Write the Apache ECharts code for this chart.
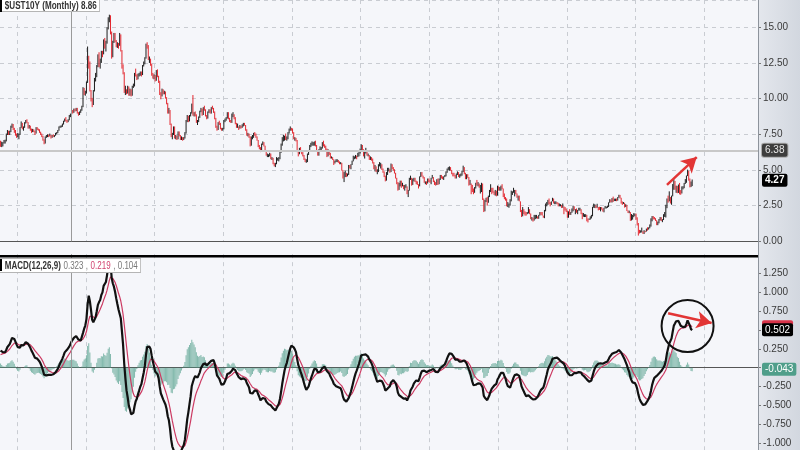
<!DOCTYPE html>
<html><head><meta charset="utf-8">
<script src="https://cdn.jsdelivr.net/npm/echarts/dist/echarts.min.js"></script>
<style>html,body{margin:0;padding:0;background:#f5f6fa}#c{width:800px;height:450px}</style>
</head><body><div id="c"></div><script>
// months on the axis: Oct 1973 .. Nov 2028 (data ends Feb 2024)
const startYear = 1973, startMonth = 10, totalSlots = 662;
// warm-up closes for MACD (Jan 1971 - Sep 1973), not drawn as candles
const priorCloses = [6.24,6.11,5.70,5.83,6.39,6.52,6.73,6.58,6.14,5.93,5.81,5.93,
5.95,6.08,6.07,6.19,6.13,6.11,6.11,6.21,6.55,6.48,6.28,6.36,
6.46,6.64,6.71,6.67,6.85,6.90,7.13,7.40,7.09];
const closes = [6.80,6.88,6.90,
7.02,7.05,7.50,7.65,7.55,7.70,8.05,8.20,7.85,7.75,7.50,7.40,
7.40,7.50,7.95,8.25,7.90,8.00,8.30,8.40,8.35,7.95,8.10,7.80,
7.75,7.80,7.70,7.60,7.95,7.85,7.80,7.65,7.50,7.35,7.10,6.85,
7.30,7.38,7.40,7.38,7.45,7.25,7.40,7.35,7.40,7.55,7.60,7.75,
7.95,8.05,8.05,8.20,8.40,8.55,8.45,8.40,8.50,8.75,8.90,9.10,
9.05,9.25,9.15,9.30,9.00,8.85,9.05,9.20,9.45,10.45,10.35,10.40,
11.15,12.80,12.50,10.60,9.95,9.60,10.55,11.35,11.55,12.30,12.70,12.45,
12.55,13.25,13.15,14.05,13.60,13.95,14.95,15.65,15.84,14.60,12.90,13.95,
14.30,14.05,13.75,13.80,13.75,14.45,13.35,12.30,11.80,10.50,10.55,10.40,
10.80,10.25,10.60,10.25,10.85,10.90,11.75,11.65,11.35,11.70,11.70,11.82,
11.70,12.30,12.45,12.85,13.80,13.70,12.75,12.75,12.40,11.65,11.55,11.55,
11.30,11.95,11.55,11.20,10.30,10.20,10.60,10.40,10.45,10.05,9.65,9.00,
9.15,8.20,7.35,7.50,8.00,7.25,7.30,7.15,7.65,7.40,7.20,7.25,
7.15,7.25,7.60,8.40,8.75,8.45,8.80,9.00,9.60,8.90,8.95,8.85,
8.35,8.40,8.70,9.10,9.30,8.85,9.35,9.20,8.80,8.60,9.05,9.15,
9.00,9.35,9.30,9.05,8.60,8.05,7.80,8.30,8.25,7.90,7.80,7.90,
8.45,8.55,8.65,9.00,8.60,8.40,8.35,8.85,8.85,8.65,8.25,8.05,
8.05,7.95,8.05,8.00,8.10,8.20,8.15,7.80,7.45,7.50,7.35,6.70,
7.30,7.30,7.55,7.50,7.30,7.10,6.65,6.55,6.30,6.80,6.90,6.70,
6.40,6.05,6.05,6.05,6.15,5.80,5.80,5.45,5.40,5.45,5.80,5.80,
5.80,6.25,6.75,7.10,7.15,7.35,7.20,7.20,7.60,7.80,7.90,7.85,
7.60,7.20,7.20,7.05,6.30,6.20,6.45,6.30,6.20,6.00,5.75,5.60,
5.60,6.10,6.35,6.65,6.75,6.75,6.90,6.95,6.70,6.35,6.05,6.40,
6.50,6.55,6.90,6.70,6.65,6.50,5.95,6.35,6.10,5.85,5.85,5.75,
5.50,5.60,5.65,5.65,5.55,5.45,5.50,5.00,4.45,4.60,4.75,4.65,
4.65,5.30,5.25,5.35,5.60,5.80,5.90,5.95,5.90,6.05,6.20,6.45,
6.68,6.40,6.00,6.20,6.25,6.05,6.05,5.75,5.80,5.75,5.50,5.10,
5.15,4.90,4.90,5.35,5.40,5.40,5.05,4.85,4.60,4.25,4.75,5.05,
5.05,4.85,5.40,5.10,5.05,4.80,4.45,4.15,3.60,3.90,4.20,3.80,
3.95,3.70,3.80,3.85,3.35,3.55,4.40,4.45,3.95,4.30,4.35,4.25,
4.15,4.00,3.85,4.50,4.65,4.60,4.45,4.15,4.15,4.05,4.35,4.25,
4.15,4.40,4.50,4.20,4.00,3.95,4.30,4.00,4.35,4.55,4.50,4.40,
4.50,4.55,4.85,5.05,5.10,5.15,5.00,4.75,4.65,4.60,4.45,4.70,
4.85,4.55,4.65,4.65,4.90,5.05,4.75,4.55,4.60,4.50,3.95,4.05,
3.65,3.50,3.45,3.75,4.05,3.95,3.95,3.80,3.80,3.95,2.95,2.20,
2.85,3.00,2.70,3.15,3.45,3.55,3.50,3.40,3.30,3.40,3.20,3.85,
3.60,3.60,3.85,3.65,3.30,2.95,2.90,2.45,2.50,2.60,2.80,3.30,
3.40,3.45,3.45,3.30,3.05,3.15,2.80,2.20,1.90,2.15,2.05,1.88,
1.80,1.98,2.20,1.92,1.58,1.65,1.50,1.55,1.63,1.70,1.62,1.76,
1.98,1.88,1.85,1.68,2.15,2.50,2.60,2.78,2.62,2.55,2.75,3.00,
2.65,2.65,2.72,2.65,2.48,2.53,2.55,2.35,2.50,2.35,2.18,2.17,
1.65,2.00,1.93,2.03,2.12,2.35,2.20,2.20,2.05,2.15,2.22,2.27,
1.92,1.73,1.78,1.83,1.85,1.47,1.45,1.58,1.60,1.83,2.38,2.45,
2.45,2.39,2.40,2.29,2.21,2.31,2.29,2.12,2.33,2.38,2.41,2.41,
2.72,2.86,2.74,2.95,2.83,2.85,2.96,2.86,3.06,3.14,3.01,2.69,
2.63,2.72,2.41,2.51,2.13,2.01,2.02,1.50,1.67,1.69,1.78,1.92,
1.51,1.13,0.67,0.64,0.65,0.66,0.55,0.71,0.68,0.88,0.84,0.92,
1.07,1.44,1.74,1.63,1.58,1.45,1.24,1.31,1.49,1.55,1.44,1.51,
1.78,1.83,2.34,2.94,2.84,3.01,2.65,3.19,3.83,4.05,3.68,3.88,
3.52,3.92,3.47,3.44,3.64,3.84,3.96,4.11,4.57,4.88,4.33,3.88,
3.91,4.27];
const highs = [7.05,6.98,6.95,
7.10,7.12,7.55,7.80,7.75,7.75,8.10,8.25,8.22,7.95,7.80,7.55,
7.60,7.55,8.00,8.40,8.30,8.05,8.35,8.50,8.55,8.35,8.15,8.10,
7.90,7.88,7.85,7.75,8.00,8.00,7.90,7.85,7.68,7.55,7.40,7.15,
7.35,7.45,7.50,7.48,7.55,7.45,7.45,7.50,7.45,7.60,7.65,7.80,
8.05,8.10,8.12,8.25,8.45,8.60,8.70,8.50,8.55,8.85,8.95,9.20,
9.20,9.30,9.30,9.35,9.35,9.05,9.10,9.25,9.50,10.80,10.75,10.55,
11.20,13.65,13.00,12.60,10.60,10.05,10.60,11.45,11.80,12.35,13.10,13.25,
12.80,13.35,13.35,14.15,14.25,14.05,15.00,15.70,15.88,15.84,14.70,14.05,
14.60,14.60,14.10,13.95,13.90,14.60,14.50,13.40,12.40,11.85,10.90,10.65,
10.90,10.85,10.70,10.65,10.90,11.05,11.80,12.10,11.70,11.75,11.80,11.90,
11.90,12.35,12.60,12.90,13.85,13.95,13.75,12.95,12.80,12.45,11.80,11.70,
11.65,12.00,12.05,11.60,11.25,10.45,10.70,10.65,10.55,10.50,10.10,9.70,
9.35,9.20,8.25,7.60,8.05,8.05,7.45,7.40,7.70,7.70,7.45,7.35,
7.30,7.30,7.65,8.50,8.85,8.80,8.85,9.05,9.65,10.25,9.05,9.10,
8.90,8.50,8.75,9.15,9.35,9.30,9.40,9.50,9.25,8.85,9.10,9.25,
9.25,9.40,9.50,9.35,9.10,8.65,8.10,8.35,8.45,8.30,7.95,7.95,
8.50,8.60,8.70,9.05,9.05,8.65,8.50,8.95,9.05,8.90,8.70,8.30,
8.25,8.05,8.15,8.10,8.20,8.30,8.30,8.15,7.85,7.60,7.55,7.35,
7.35,7.45,7.60,7.65,7.55,7.35,7.10,6.75,6.60,6.85,7.00,6.95,
6.70,6.40,6.15,6.10,6.20,6.15,5.90,5.85,5.50,5.50,5.90,5.85,
5.90,6.30,6.85,7.30,7.45,7.40,7.55,7.35,7.65,7.90,8.05,7.95,
7.90,7.65,7.30,7.25,7.10,6.35,6.55,6.60,6.35,6.25,6.05,5.80,
5.75,6.15,6.40,6.75,6.90,7.00,6.95,7.00,7.05,6.75,6.40,6.45,
6.65,6.60,6.95,7.05,6.80,6.70,6.50,6.45,6.40,6.20,5.95,5.90,
5.75,5.65,5.75,5.75,5.70,5.60,5.55,5.50,5.00,4.85,4.95,4.80,
4.75,5.35,5.35,5.40,5.65,6.00,5.95,6.05,6.00,6.20,6.25,6.50,
6.80,6.75,6.45,6.30,6.55,6.30,6.15,6.05,5.95,5.90,5.80,5.55,
5.35,5.25,5.05,5.40,5.55,5.50,5.40,5.10,4.90,4.60,4.85,5.15,
5.15,5.05,5.45,5.40,5.20,5.05,4.80,4.45,4.15,4.10,4.25,4.25,
4.10,3.95,3.95,4.00,3.85,3.60,4.45,4.60,4.45,4.40,4.45,4.45,
4.25,4.20,4.00,4.55,4.85,4.85,4.60,4.50,4.20,4.20,4.40,4.40,
4.30,4.45,4.65,4.50,4.25,4.15,4.35,4.40,4.40,4.65,4.65,4.55,
4.55,4.65,4.90,5.10,5.20,5.25,5.20,5.00,4.80,4.80,4.65,4.75,
4.90,4.85,4.70,4.75,4.95,5.30,5.20,4.80,4.70,4.70,4.50,4.30,
4.05,3.95,3.70,3.80,4.10,4.30,4.15,4.05,3.95,4.10,4.05,3.00,
2.90,3.05,3.10,3.20,3.60,4.00,3.75,3.75,3.50,3.60,3.55,3.90,
3.85,3.80,3.90,4.00,3.70,3.35,3.10,3.00,2.75,2.65,2.95,3.55,
3.50,3.75,3.60,3.60,3.35,3.20,3.20,2.80,2.20,2.40,2.25,2.10,
2.05,2.05,2.40,2.25,1.95,1.70,1.65,1.85,1.85,1.85,1.75,1.85,
2.05,2.05,2.05,1.80,2.20,2.65,2.75,2.90,3.00,2.75,2.80,3.05,
3.00,2.80,2.80,2.75,2.70,2.65,2.60,2.55,2.65,2.45,2.40,2.30,
2.15,2.10,2.25,2.05,2.30,2.50,2.45,2.25,2.30,2.20,2.35,2.35,
2.25,2.00,1.98,1.90,1.90,1.85,1.60,1.60,1.75,1.85,2.42,2.64,
2.60,2.52,2.63,2.40,2.42,2.40,2.40,2.30,2.35,2.48,2.43,2.50,
2.73,2.95,2.93,3.03,3.13,2.99,2.99,3.00,3.10,3.26,3.25,3.05,
2.79,2.75,2.70,2.60,2.55,2.16,2.15,2.05,1.91,1.85,1.97,1.95,
1.94,1.68,1.28,0.80,0.77,0.96,0.70,0.78,0.73,0.89,0.98,0.98,
1.18,1.61,1.77,1.77,1.70,1.62,1.48,1.38,1.56,1.70,1.69,1.55,
1.90,2.05,2.56,3.00,3.20,3.50,3.10,3.20,4.01,4.34,4.23,3.90,
3.88,3.98,4.09,3.59,3.85,3.86,4.09,4.36,4.61,5.02,4.94,4.40,
4.19,4.33];
const lows = [6.62,6.60,6.65,
6.85,6.85,7.00,7.45,7.45,7.45,7.65,7.95,7.80,7.60,7.40,7.25,
7.30,7.15,7.45,7.95,7.85,7.75,7.95,8.25,8.30,7.90,7.90,7.75,
7.60,7.65,7.65,7.45,7.55,7.80,7.75,7.60,7.45,7.30,7.05,6.80,
6.85,7.25,7.30,7.30,7.35,7.20,7.25,7.30,7.30,7.40,7.50,7.58,
7.75,7.95,7.98,8.02,8.18,8.38,8.40,8.30,8.35,8.48,8.70,8.85,
8.95,9.00,9.10,9.12,8.95,8.80,8.85,9.00,9.15,9.40,10.25,10.20,
10.35,11.10,12.10,10.50,9.80,9.40,9.55,10.50,11.20,11.50,12.20,12.20,
12.10,12.50,12.90,13.10,13.50,13.30,13.85,14.85,15.35,14.50,12.80,12.90,
13.90,13.95,13.60,13.55,13.50,13.70,13.30,12.10,11.70,10.40,10.25,10.30,
10.35,10.20,10.20,10.15,10.20,10.75,10.85,11.55,11.30,11.35,11.55,11.60,
11.55,11.65,12.25,12.40,12.80,13.50,12.70,12.50,12.30,11.60,11.40,11.35,
11.20,11.25,11.50,11.10,10.25,9.95,10.15,10.30,10.30,10.00,9.60,8.95,
8.95,8.15,7.30,7.15,7.45,7.20,7.15,7.10,7.15,7.35,7.10,7.10,
7.05,7.10,7.20,7.55,8.35,8.35,8.40,8.75,8.95,8.80,8.75,8.75,
8.30,8.15,8.35,8.65,9.05,8.80,8.85,9.15,8.75,8.55,8.60,9.00,
8.95,8.95,9.25,9.00,8.55,7.95,7.75,7.80,8.15,7.85,7.75,7.75,
7.85,8.35,8.45,8.60,8.55,8.35,8.30,8.30,8.70,8.55,8.20,7.95,
7.95,7.80,7.90,7.90,7.95,8.05,8.10,7.75,7.40,7.35,7.25,6.65,
6.70,7.15,7.25,7.40,7.25,7.05,6.60,6.45,6.25,6.30,6.75,6.65,
6.35,6.00,5.90,5.90,5.95,5.75,5.70,5.40,5.25,5.20,5.40,5.65,
5.60,5.75,6.20,6.70,7.00,7.05,7.10,7.05,7.15,7.55,7.75,7.75,
7.55,7.15,7.05,7.00,6.25,5.95,6.10,6.25,6.10,5.95,5.70,5.55,
5.50,5.55,6.05,6.30,6.60,6.70,6.70,6.70,6.65,6.30,6.00,6.00,
6.35,6.30,6.50,6.65,6.55,6.40,5.90,5.95,6.05,5.80,5.80,5.70,
5.35,5.45,5.55,5.55,5.50,5.40,5.40,4.95,4.40,4.15,4.50,4.50,
4.55,4.65,5.10,5.05,5.35,5.60,5.75,5.80,5.75,5.90,5.95,6.15,
6.40,6.35,5.95,5.80,6.15,6.00,5.95,5.70,5.70,5.65,5.45,5.05,
4.90,4.85,4.70,4.85,5.25,5.10,5.00,4.80,4.50,4.20,4.25,4.65,
4.90,4.80,4.85,5.05,4.95,4.75,4.40,4.00,3.55,3.60,3.85,3.75,
3.85,3.65,3.55,3.75,3.30,3.10,3.55,4.30,3.90,3.95,4.20,4.15,
4.00,3.95,3.70,3.85,4.50,4.55,4.40,4.10,4.00,3.95,4.05,4.15,
4.10,4.00,4.40,4.15,3.95,3.90,3.95,3.95,4.00,4.30,4.40,4.35,
4.30,4.50,4.55,4.80,5.00,4.95,4.95,4.70,4.55,4.55,4.40,4.40,
4.65,4.50,4.45,4.55,4.60,4.85,4.70,4.35,4.35,4.45,3.90,3.95,
3.30,3.45,3.30,3.40,3.70,3.90,3.85,3.75,3.35,3.45,2.90,2.05,
2.10,2.75,2.50,2.70,3.10,3.45,3.30,3.40,3.25,3.20,3.15,3.20,
3.55,3.55,3.55,3.65,3.10,2.95,2.85,2.45,2.40,2.35,2.50,2.80,
3.25,3.40,3.15,3.30,3.05,2.85,2.80,2.05,1.70,1.75,1.90,1.80,
1.80,1.90,1.95,1.90,1.55,1.45,1.38,1.45,1.55,1.60,1.58,1.58,
1.80,1.85,1.80,1.65,1.62,2.10,2.45,2.55,2.60,2.45,2.55,2.80,
2.65,2.60,2.60,2.60,2.45,2.45,2.45,2.33,2.35,1.90,2.15,2.05,
1.65,1.65,1.85,1.85,2.00,2.10,2.18,1.90,2.00,1.90,2.15,2.15,
1.90,1.55,1.72,1.70,1.70,1.40,1.32,1.50,1.52,1.60,1.75,2.35,
2.33,2.32,2.35,2.17,2.20,2.10,2.22,2.08,2.03,2.30,2.30,2.34,
2.40,2.70,2.73,2.72,2.76,2.82,2.82,2.81,2.85,3.05,3.00,2.64,
2.55,2.62,2.36,2.40,2.12,1.98,1.97,1.43,1.46,1.52,1.69,1.77,
1.51,1.11,0.40,0.55,0.60,0.62,0.52,0.51,0.63,0.68,0.75,0.82,
0.91,1.03,1.40,1.53,1.53,1.43,1.13,1.13,1.26,1.46,1.42,1.34,
1.49,1.71,1.67,2.32,2.71,2.80,2.65,2.56,3.15,3.61,3.61,3.40,
3.37,3.39,3.29,3.26,3.35,3.64,3.72,4.02,4.10,4.57,4.25,3.78,
3.80,3.87];
const priceTicks = [0, 2.5, 5, 7.5, 10, 12.5, 15];
const macdTicks = [-1, -0.75, -0.5, -0.25, 0, 0.25, 0.5, 0.75, 1, 1.25];
const macdTickLabels = [-1, -0.75, -0.5, -0.25, 0.25, 0.75, 1, 1.25]; // 0 and 0.5 are covered by value tags
// annotation values
const levelLine = 6.38, lastPrice = 4.27, macdLast = 0.502, signalLast = 0.54, histLast = -0.02;
const histLastText = '-0.043';
const vLineMonth = '1978-12';
const priceArrow = [['2022-04', 3.95], ['2024-06', 5.9]];
const macdArrow = [['2022-05', 0.72], ['2025-07', 0.59]];
const macdCircle = ['2023-10', 0.55];
const titleText = '$UST10Y (Monthly) 8.86';
const macdLegend = ['MACD(12,26,9)', '0.323', '0.219', '0.104'];

const cats = [];
for (let i = 0; i < totalSlots; i++) {
  const m = startMonth - 1 + i;
  cats.push((startYear + Math.floor(m / 12)) + '-' + String(m % 12 + 1).padStart(2, '0'));
}
const allCloses = priorCloses.concat(closes);
function ema(arr, n) { const k = 2 / (n + 1); const out = []; let e = arr[0];
  arr.forEach((v, i) => { e = i === 0 ? v : v * k + e * (1 - k); out.push(e); }); return out; }
const e12 = ema(allCloses, 12), e26 = ema(allCloses, 26);
const macdAll = e12.map((v, i) => v - e26[i]);
const sigAll = ema(macdAll, 9);
const off = priorCloses.length;
const macd = macdAll.slice(off), signal = sigAll.slice(off);
const hist = macd.map((v, i) => v - signal[i]);
const candles = closes.map((c, i) => [i === 0 ? priorCloses[off - 1] : closes[i - 1], c, lows[i], highs[i]]);

const gridSplit = (idx, val) => val.endsWith('-01') && (+val.slice(0, 4)) % 5 === 0;
const FONT = 'Arial,"Liberation Sans",sans-serif';
const dashed = { color: '#c9ccd2', type: [4, 4], width: 1 };
const hidden = { color: 'rgba(0,0,0,0)', width: 0 };
const tag = (bg, fg, bold) => ({ show: true, position: 'end', distance: 4, backgroundColor: bg, color: fg,
  padding: [2, 3, 1, 3], borderRadius: 2, fontSize: 10, fontFamily: FONT, fontWeight: bold ? 'bold' : 'normal' });

const chart = echarts.init(document.getElementById('c'));
chart.setOption({
  animation: false,
  backgroundColor: '#f5f6fa',
  grid: [
    { left: 0, right: 42, top: 0, bottom: 208.7 },
    { left: 0, right: 42, top: 254.15, bottom: 0 }
  ],
  xAxis: [
    { type: 'category', data: cats, gridIndex: 0, boundaryGap: true,
      axisLine: { lineStyle: { color: '#555', width: 1 } }, axisTick: { show: false }, axisLabel: { show: false },
      splitLine: { show: true, interval: gridSplit, lineStyle: dashed } },
    { type: 'category', data: cats, gridIndex: 1, boundaryGap: true,
      axisLine: { onZero: true, lineStyle: { color: '#555', width: 1 } }, axisTick: { show: false }, axisLabel: { show: false },
      splitLine: { show: true, interval: gridSplit, lineStyle: dashed } }
  ],
  yAxis: [
    { type: 'value', gridIndex: 0, position: 'right', min: 0, max: 16.91, interval: 2.5,
      axisLine: { show: false }, axisTick: { show: true, length: 3, lineStyle: { color: '#777' } },
      axisLabel: { margin: 5, color: '#3a3a3a', fontSize: 10, fontFamily: FONT, showMaxLabel: false,
        formatter: v => priceTicks.includes(v) ? v.toFixed(2) : '' },
      splitLine: { show: true, lineStyle: dashed } },
    { type: 'value', gridIndex: 1, position: 'right', min: -1.087, max: 1.5,
      axisLine: { show: false },
      axisTick: { show: true, length: 3, lineStyle: { color: '#777' }, customValues: macdTicks },
      axisLabel: { margin: 5, color: '#3a3a3a', fontSize: 10, fontFamily: FONT, customValues: macdTickLabels,
        formatter: v => v.toFixed(3) },
      splitLine: { show: false } }
  ],
  series: [
    { type: 'candlestick', xAxisIndex: 0, yAxisIndex: 0, data: candles,
      itemStyle: { color: '#1c1c1c', borderColor: '#1c1c1c', color0: '#e3262e', borderColor0: '#e3262e', borderWidth: 1 },
      markLine: { silent: true, symbol: ['none', 'none'], animation: false,
        data: [
          { xAxis: vLineMonth, lineStyle: { color: '#9a9a9a', width: 1, type: 'solid' }, label: { show: false } },
          { yAxis: levelLine, lineStyle: { color: '#c8c8c8', width: 2, type: 'solid' },
            label: Object.assign(tag('#3d3d3d', '#e8e8e8', false), { formatter: levelLine.toFixed(2), borderColor: '#aaa', borderWidth: 1 }) },
          { yAxis: lastPrice, lineStyle: hidden,
            label: Object.assign(tag('#000', '#fff', true), { formatter: lastPrice.toFixed(2) }) },
          [ { coord: priceArrow[0], symbol: 'none' },
            { coord: priceArrow[1], symbol: 'arrow', symbolSize: [13, 15],
              lineStyle: { color: '#e23535', width: 2.5, type: 'solid' }, label: { show: false } } ]
        ] } },
    { type: 'bar', xAxisIndex: 1, yAxisIndex: 1, data: hist, barWidth: '70%', z: 1,
      itemStyle: { color: 'rgba(82,160,140,0.7)' } },
    { type: 'line', xAxisIndex: 1, yAxisIndex: 1, data: signal, showSymbol: false, z: 3,
      lineStyle: { color: '#cc3a62', width: 1.2 } },
    { type: 'line', xAxisIndex: 1, yAxisIndex: 1, data: macd, showSymbol: false, z: 4,
      lineStyle: { color: '#111', width: 2.2 },
      markLine: { silent: true, symbol: ['none', 'none'], animation: false,
        data: [
          { xAxis: vLineMonth, lineStyle: { color: '#9a9a9a', width: 1, type: 'solid' }, label: { show: false } },
          { yAxis: signalLast, lineStyle: hidden,
            label: Object.assign(tag('#d9344a', '#d9344a', false), { formatter: macdLast.toFixed(3) }) },
          { yAxis: macdLast, lineStyle: hidden,
            label: Object.assign(tag('#000', '#fff', false), { formatter: macdLast.toFixed(3) }) },
          { yAxis: histLast, lineStyle: hidden,
            label: Object.assign(tag('#4f9e8a', '#fff', false), { formatter: histLastText }) },
          [ { coord: macdArrow[0], symbol: 'none' },
            { coord: macdArrow[1], symbol: 'arrow', symbolSize: [13, 15],
              lineStyle: { color: '#e23535', width: 2.5, type: 'solid' }, label: { show: false } } ]
        ] },
      markPoint: { silent: true, animation: false,
        data: [ { coord: macdCircle, symbol: 'circle', symbolSize: 52,
          itemStyle: { color: 'rgba(0,0,0,0)', borderColor: '#111', borderWidth: 2 }, label: { show: false } } ] } }
  ],
  graphic: [
    { type: 'rect', z: -10, silent: true, shape: { x: 758, y: 0, width: 42, height: 450 },
      style: { fill: new echarts.graphic.LinearGradient(0, 0, 1, 0, [{ offset: 0, color: '#e4e7ed' }, { offset: 1, color: '#d2d7df' }]) } },
    { type: 'line', z: 50, silent: true, shape: { x1: 758.5, y1: 0, x2: 758.5, y2: 450 }, style: { stroke: '#8d939c', lineWidth: 1 } },
    { type: 'rect', z: 50, silent: true, shape: { x: 0, y: 255, width: 758, height: 2.5 }, style: { fill: '#000' } },
    { type: 'text', z: 62, silent: true, x: 0, y: 0, scaleX: 0.81,
      style: { text: titleText, fill: '#333', font: 'bold 10px ' + FONT, verticalAlign: 'top',
        backgroundColor: '#fff', borderColor: '#b5b5b5', borderWidth: 1, padding: [1, 3, 0, 6] } },
    { type: 'rect', z: 63, silent: true, shape: { x: 0, y: 0, width: 2, height: 12 }, style: { fill: '#000' } },
    { type: 'text', z: 62, silent: true, x: 0, y: 259, scaleX: 0.8,
      style: { text: '{a|' + macdLegend[0] + '} {b|' + macdLegend[1] + ' ,} {c|' + macdLegend[2] + '} {b|, ' + macdLegend[3] + '}',
        verticalAlign: 'top', backgroundColor: '#fff', borderColor: '#b5b5b5', borderWidth: 1, padding: [1, 3, 0, 6],
        rich: { a: { fill: '#333', font: 'bold 10px ' + FONT }, b: { fill: '#777', font: '10px ' + FONT }, c: { fill: '#d0406e', font: '10px ' + FONT } } } },
    { type: 'rect', z: 63, silent: true, shape: { x: 0, y: 259, width: 2, height: 12 }, style: { fill: '#000' } }
  ]
});
</script></body></html>
